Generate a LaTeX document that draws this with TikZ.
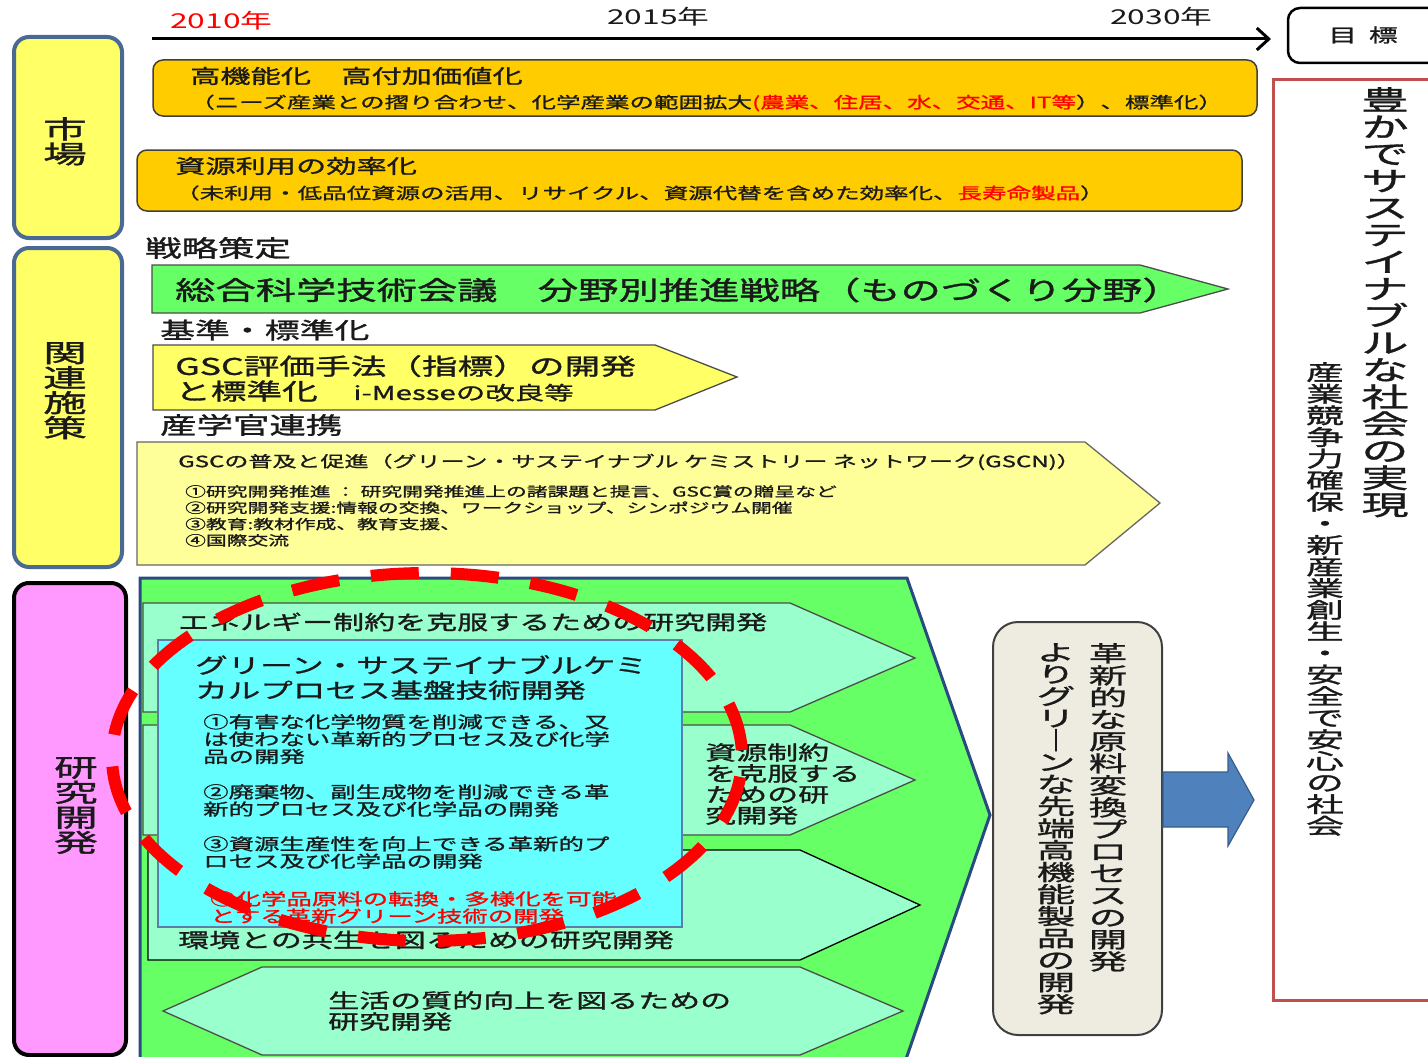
\documentclass[tikz,border=0pt]{standalone}
\usepackage{fontspec}
\usetikzlibrary{arrows.meta}
\newfontfamily\jpreg[FakeStretch=1.55]{Noto Sans CJK JP}
\newfontfamily\jph[FakeStretch=1.55,FakeBold=1.3]{Noto Sans CJK JP}
\newfontfamily\jpv[FakeStretch=1.75,FakeBold=1.3]{Noto Sans CJK JP}
\newcommand\myhf[2]{\jph\fontsize{#1}{#2}\selectfont}
\newcommand\myrf[2]{\jpreg\fontsize{#1}{#2}\selectfont}
\newcommand\myvf[1]{\jpv\fontsize{#1}{#1}\selectfont}
\definecolor{orangeY}{HTML}{FFCC00}
\definecolor{labY}{HTML}{FFFF66}
\definecolor{labBorder}{HTML}{4A6A94}
\definecolor{pinkL}{HTML}{FF99FF}
\definecolor{greenA}{HTML}{66FF66}
\definecolor{paleY}{HTML}{FFFF99}
\definecolor{mint}{HTML}{99FFCC}
\definecolor{cyanB}{HTML}{66FFFF}
\definecolor{cyanD}{HTML}{5A7FA8}
\definecolor{grayB}{HTML}{EEECE1}
\definecolor{blueA}{HTML}{4F81BD}
\definecolor{blueAd}{HTML}{385D8A}
\definecolor{redB}{HTML}{C0504D}
\definecolor{darkblue}{HTML}{2A4A80}
\definecolor{txt}{HTML}{1A1A1A}
\begin{document}
\begin{tikzpicture}[x=1pt,y=-1pt,
  lbl/.style={inner sep=0pt, anchor=west, text=txt},
  blk/.style={inner sep=0pt, anchor=north west, align=left, text=txt},
  vtxt/.style={inner sep=0pt, anchor=north, align=center, text=txt},
  mbox/.style={draw=black!75, line width=1.5pt, fill=orangeY, rounded corners=10pt},
  side/.style={line width=4pt, rounded corners=15pt},
  arr/.style={draw=black!70, line width=1.3pt},
]
\useasboundingbox (0,0) rectangle (1428,1057);
\clip (0,0) rectangle (1428,1057);
\fill[white] (0,0) rectangle (1428,1057);

% timeline
\coordinate (t0) at (152,39);
\coordinate (t1) at (1271,39);
\draw[line width=3pt, -{Straight Barb[length=12pt,width=22pt,line width=3pt]}] (t0) -- (t1);
\node[lbl, text=red, font=\myrf{20.5}{20.5}] (y2010) at (170,21) {2010年};
\node[lbl, font=\myrf{20.5}{20.5}] (y2015) at (607,17) {2015年};
\node[lbl, font=\myrf{20.5}{20.5}] (y2030) at (1110,17) {2030年};

% goal box
\draw[line width=2.5pt, rounded corners=12pt, fill=white] (1288,8) rectangle (1450,63);
\node[inner sep=0pt, font=\myhf{18.5}{18.5}, text=txt] (goal) at (1363,35) {目\hspace{12pt}標};

% red goal column
\draw[redB, line width=3pt] (1273,80) rectangle (1450,1000);
\node[vtxt, font=\myvf{27}] (goalA) at (1385,87) {豊\\か\\で\\サ\\ス\\テ\\イ\\ナ\\ブ\\ル\\な\\社\\会\\の\\実\\現};
\node[vtxt, font=\myvf{21.6}] (goalB) at (1325,362) {産\\業\\競\\争\\力\\確\\保\\・\\新\\産\\業\\創\\生\\・\\安\\全\\で\\安\\心\\の\\社\\会};

% left labels
\draw[side, draw=labBorder, fill=labY] (14,37) rectangle (122,238);
\node[vtxt, font=\myvf{25}] (mkt) at (65,117) {市\\場};
\draw[side, draw=labBorder, fill=labY] (14,248) rectangle (122,567);
\node[vtxt, font=\myvf{25}] (pol) at (65,342) {関\\連\\施\\策};
\draw[side, draw=black, fill=pinkL] (14,583) rectangle (126,1055);
\node[vtxt, font=\myvf{25}] (rnd) at (76,757) {研\\究\\開\\発};

% market boxes
\draw[mbox] (153,60) rectangle (1257,116);
\node[lbl, font=\myhf{19.5}{19.5}] (m1t) at (190,76) {高機能化　高付加価値化};
\node[lbl, font=\myhf{15.8}{15.8}] (m1s) at (190,103) {（ニーズ産業との摺り合わせ、化学産業の範囲拡大\textcolor{red}{(農業、住居、水、交通、IT等}）、標準化）};
\draw[mbox] (137,150) rectangle (1242,211);
\node[lbl, font=\myhf{19.5}{19.5}] (m2t) at (175,166) {資源利用の効率化};
\node[lbl, font=\myhf{15.8}{15.8}] (m2s) at (175,193) {（未利用・低品位資源の活用、リサイクル、資源代替を含めた効率化、\textcolor{red}{長寿命製品}）};

% policies
\node[lbl, font=\myhf{23.5}{23.5}] (p1l) at (145,248) {戦略策定};
\draw[arr, fill=greenA] (152,265) -- (1140,265) -- (1228,289) -- (1140,313) -- (152,313) -- cycle;
\node[lbl, font=\myhf{26}{26}] (p1) at (175,290) {総合科学技術会議　分野別推進戦略（ものづくり分野）};
\node[lbl, font=\myhf{22.5}{22.5}] (p2l) at (160,330) {基準・標準化};
\draw[arr, fill=labY] (153,345) -- (655,345) -- (737,377) -- (655,410) -- (153,410) -- cycle;
\node[blk, font=\myhf{23}{25}] (p2) at (175,355) {GSC評価手法（指標）の開発\\と標準化　{\myhf{19}{25}i-Messeの改良等}};
\node[lbl, font=\myhf{23.5}{23.5}] (p3l) at (160,425) {産学官連携};
\draw[arr, draw=black!60, fill=paleY] (137,442) -- (1085,442) -- (1160,503) -- (1085,565) -- (137,565) -- cycle;
\node[lbl, font=\myhf{15.5}{15.5}] (p3) at (178,462) {GSCの普及と促進（グリーン・サステイナブル ケミストリー ネットワーク(GSCN)）};
\node[blk, font=\myhf{13.4}{16.3}] (p3i) at (185,485) {①研究開発推進 ： 研究開発推進上の諸課題と提言、GSC賞の贈呈など\\②研究開発支援:情報の交換、ワークショップ、シンポジウム開催\\③教育:教材作成、教育支援、\\④国際交流};

% research area
\draw[draw=darkblue, line width=3pt, fill=greenA] (140,578) -- (907,578) -- (990,815) -- (905,1062) -- (140,1062) -- cycle;
\draw[arr, fill=mint] (143,603) -- (790,603) -- (915,658) -- (790,712) -- (143,712) -- cycle;
\node[lbl, font=\myhf{20}{20}] (r1) at (178,622) {エネルギー制約を克服するための研究開発};
\draw[arr, fill=mint] (143,725) -- (790,725) -- (915,780) -- (790,835) -- (143,835) -- cycle;
\node[blk, font=\myhf{20}{21}] (r2) at (705,743) {資源制約\\を克服する\\ための研\\究開発};
\draw[arr, draw=black, fill=mint] (148,850) -- (800,850) -- (920,905) -- (800,960) -- (148,960) -- cycle;
\node[lbl, font=\myhf{20}{20}] (r3) at (178,940) {環境との共生を図るための研究開発};
\draw[arr, fill=mint] (163,1011) -- (262,967) -- (800,967) -- (903,1011) -- (800,1055) -- (262,1055) -- cycle;
\node[blk, font=\myhf{20}{21}] (r4) at (328,991) {生活の質的向上を図るための\\研究開発};

% cyan core box
\draw[draw=cyanD, line width=1.2pt, fill=cyanB] (158,640) rectangle (682,927);
\node[blk, font=\myhf{21}{25}] (c0) at (195,655) {グリーン・サステイナブルケミ\\カルプロセス基盤技術開発};
\node[blk, font=\myhf{16.4}{17.3}] (c1) at (203,714) {①有害な化学物質を削減できる、又\\は使わない革新的プロセス及び化学\\品の開発};
\node[blk, font=\myhf{16.4}{17.3}] (c2) at (203,784) {②廃棄物、副生成物を削減できる革\\新的プロセス及び化学品の開発};
\node[blk, font=\myhf{16.4}{17.3}] (c3) at (203,836) {③資源生産性を向上できる革新的プ\\ロセス及び化学品の開発};
\node[blk, font=\myhf{16.4}{17.3}, text=red] (c4) at (210,891) {④化学品原料の転換・多様化を可能\\とする革新グリーン技術の開発};

% red dashed ellipse
\draw[red, line width=12pt, dash pattern=on 48pt off 32pt, dash phase=60pt] (427,757) ellipse [x radius=315, y radius=184];

% outcome box
\draw[draw=black!75, line width=2pt, fill=grayB, rounded corners=25pt] (993,622) rectangle (1162,1035);
\node[vtxt, font=\myvf{22}] (o1) at (1108,643) {革\\新\\的\\な\\原\\料\\変\\換\\プ\\ロ\\セ\\ス\\の\\開\\発};
\node[vtxt, font=\myvf{22}] (o2) at (1056,643) {よ\\り\\グ\\リ\\｜\\ン\\な\\先\\端\\高\\機\\能\\製\\品\\の\\開\\発};

% blue arrow
\draw[draw=blueAd, line width=1.2pt, fill=blueA] (1163,772) -- (1228,772) -- (1228,753) -- (1254,800) -- (1228,846) -- (1228,827) -- (1163,827) -- cycle;
\end{tikzpicture}
\end{document}
